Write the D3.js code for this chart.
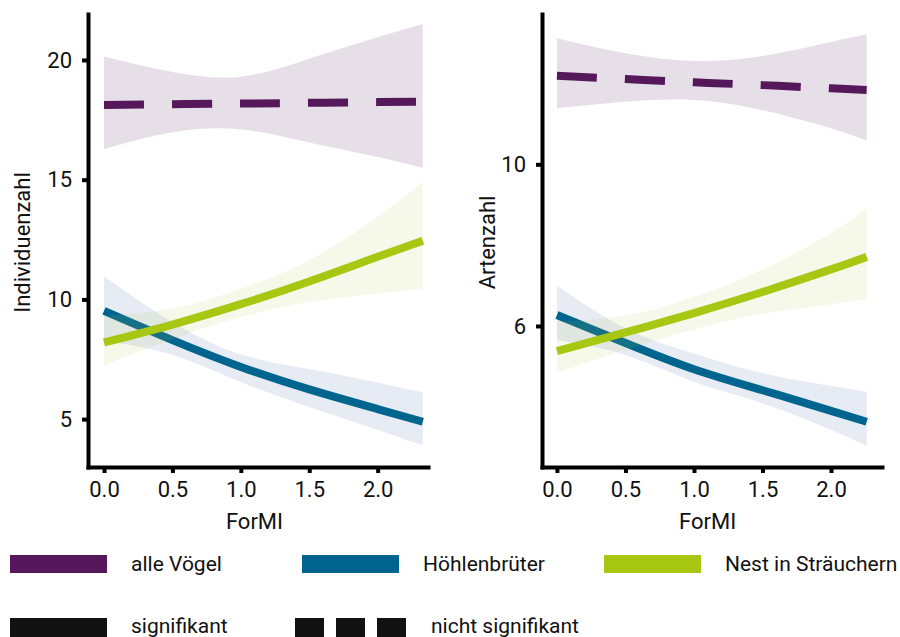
<!DOCTYPE html>
<html>
<head>
<meta charset="utf-8">
<script src="https://cdn.jsdelivr.net/npm/d3@7"></script>
<style>
  body { margin: 0; background: #fff; }
  svg text { font-family: Roboto, "Noto Sans", sans-serif; fill: #111; }
</style>
</head>
<body>
<div id="chart"></div>
<script>
const formiLeft = [0, 0.5, 1.0, 1.5, 2.0, 2.33];
const formiRight = [0, 0.5, 1.0, 1.5, 2.0, 2.26];

// Individuenzahl
const indAlleFit = [18.12, 18.15, 18.18, 18.21, 18.24, 18.26];
const indAlleLo  = [16.28, 16.98, 17.10, 16.55, 15.95, 15.50];
const indAlleHi  = [20.14, 19.50, 19.30, 20.05, 20.95, 21.50];
const indHoeFit  = [9.52, 8.30, 7.18, 6.24, 5.42, 4.89];
const indHoeLo   = [8.26, 7.68, 6.55, 5.51, 4.55, 3.91];
const indHoeHi   = [10.97, 9.05, 7.70, 7.09, 6.52, 6.12];
const indStrFit  = [8.20, 8.95, 9.80, 10.75, 11.78, 12.45];
const indStrLo   = [7.25, 8.35, 9.25, 9.90, 10.25, 10.46];
const indStrHi   = [9.32, 9.62, 10.45, 11.64, 13.45, 14.91];

// Artenzahl
const artAlleFit = [12.19, 12.11, 12.03, 11.96, 11.88, 11.84];
const artAlleLo  = [11.39, 11.55, 11.59, 11.34, 10.89, 10.58];
const artAlleHi  = [13.12, 12.75, 12.56, 12.68, 13.03, 13.22];
const artHoeFit  = [6.27, 5.58, 4.93, 4.41, 3.90, 3.63];
const artHoeLo   = [5.65, 5.28, 4.62, 4.09, 3.43, 3.03];
const artHoeHi   = [7.00, 5.94, 5.32, 4.83, 4.52, 4.37];
const artStrFit  = [5.38, 5.84, 6.32, 6.84, 7.40, 7.71];
const artStrLo   = [4.85, 5.41, 5.92, 6.30, 6.54, 6.66];
const artStrHi   = [6.11, 6.25, 6.72, 7.39, 8.30, 8.91];

const xTicks = [0, 0.5, 1.0, 1.5, 2.0];
const indTicks = [5, 10, 15, 20];
const artTicks = [6, 10];

const groups = ["alle Vögel", "Höhlenbrüter", "Nest in Sträuchern"];
const groupSig = [false, true, true];
const sigLabels = ["signifikant", "nicht signifikant"];

const colors = ["#55195b", "#00658e", "#a8c712"];
const bandColors = ["#55195b", "#2f58a3", "#b4c550"];
const bandOpacity = [0.14, 0.12, 0.12];

var width = 900;
var height = 637;

const svg = d3.select("#chart").append("svg")
    .attr("width", width)
    .attr("height", height);

function series(xs, fit, lo, hi) {
    return xs.map((x, i) => ({x: x, fit: fit[i], lo: lo[i], hi: hi[i]}));
}

const panels = [
    {
        title: "Individuenzahl", ticks: indTicks,
        xDom: [-0.117, 2.368], yDom: [3.0, 21.92], left: 88, right: 428, labelX: 22,
        data: [
            series(formiLeft, indAlleFit, indAlleLo, indAlleHi),
            series(formiLeft, indHoeFit, indHoeLo, indHoeHi),
            series(formiLeft, indStrFit, indStrLo, indStrHi)
        ]
    },
    {
        title: "Artenzahl", ticks: artTicks,
        xDom: [-0.109, 2.372], yDom: [2.51, 13.72], left: 542, right: 882, labelX: 487,
        data: [
            series(formiRight, artAlleFit, artAlleLo, artAlleHi),
            series(formiRight, artHoeFit, artHoeLo, artHoeHi),
            series(formiRight, artStrFit, artStrLo, artStrHi)
        ]
    }
];

const plotTop = 14, plotBottom = 467;

panels.forEach(p => {
    const x = d3.scaleLinear().domain(p.xDom).range([p.left, p.right]);
    const y = d3.scaleLinear().domain(p.yDom).range([plotBottom, plotTop]);
    const g = svg.append("g");

    // smooth curves through the read-off points
    const area = d3.area()
        .x(d => x(d.x)).y0(d => y(d.lo)).y1(d => y(d.hi))
        .curve(d3.curveNatural);
    const line = d3.line()
        .x(d => x(d.x)).y(d => y(d.fit))
        .curve(d3.curveNatural);

    p.data.forEach((s, i) => {
        g.append("path")
            .attr("d", area(s))
            .attr("fill", bandColors[i])
            .attr("fill-opacity", bandOpacity[i]);
        g.append("path")
            .attr("d", line(s))
            .attr("fill", "none")
            .attr("stroke", colors[i])
            .attr("stroke-width", 8)
            .attr("stroke-dasharray", groupSig[i] ? null : "40,28");
    });

    const xAxis = svg.append("g")
        .attr("transform", `translate(0,${plotBottom})`)
        .call(d3.axisBottom(x).tickValues(xTicks).tickFormat(d3.format(".1f"))
            .tickSize(6).tickSizeOuter(0).tickPadding(8));
    const yAxis = svg.append("g")
        .attr("transform", `translate(${p.left},0)`)
        .call(d3.axisLeft(y).tickValues(p.ticks).tickFormat(d3.format("d"))
            .tickSize(6).tickSizeOuter(0).tickPadding(10));

    [xAxis, yAxis].forEach(a => {
        a.select(".domain").attr("stroke", "#000").attr("stroke-width", 4)
            .attr("stroke-linecap", "square");
        a.selectAll(".tick line").attr("stroke", "#000").attr("stroke-width", 4);
        a.selectAll(".tick text").attr("font-size", 22).attr("fill", "#111")
            .style("font-family", "Roboto, sans-serif");
    });

    svg.append("text")
        .attr("x", x(1.1))
        .attr("y", 529)
        .attr("text-anchor", "middle")
        .attr("font-size", 22)
        .text("ForMI");

    svg.append("text")
        .attr("transform", `translate(${p.labelX},${(plotTop + plotBottom) / 2 + 2}) rotate(-90)`)
        .attr("text-anchor", "middle")
        .attr("dy", "0.35em")
        .attr("font-size", 22)
        .text(p.title);
});

// legend
const leg = svg.append("g");
const legX = [10, 302, 604];
groups.forEach((name, i) => {
    leg.append("rect")
        .attr("x", legX[i]).attr("y", 555)
        .attr("width", 97).attr("height", 18)
        .attr("fill", colors[i]);
    leg.append("text")
        .attr("x", legX[i] + 121).attr("y", 564)
        .attr("dy", "0.35em")
        .attr("font-size", 21)
        .text(name);
});

leg.append("rect")
    .attr("x", 10).attr("y", 618)
    .attr("width", 97).attr("height", 19)
    .attr("fill", "#111");
leg.append("text")
    .attr("x", 131).attr("y", 626)
    .attr("dy", "0.35em")
    .attr("font-size", 21)
    .text(sigLabels[0]);

leg.append("line")
    .attr("x1", 295).attr("x2", 407)
    .attr("y1", 627.5).attr("y2", 627.5)
    .attr("stroke", "#111")
    .attr("stroke-width", 19)
    .attr("stroke-dasharray", "29,12");
leg.append("text")
    .attr("x", 431).attr("y", 626)
    .attr("dy", "0.35em")
    .attr("font-size", 21)
    .text(sigLabels[1]);
</script>
</body>
</html>
